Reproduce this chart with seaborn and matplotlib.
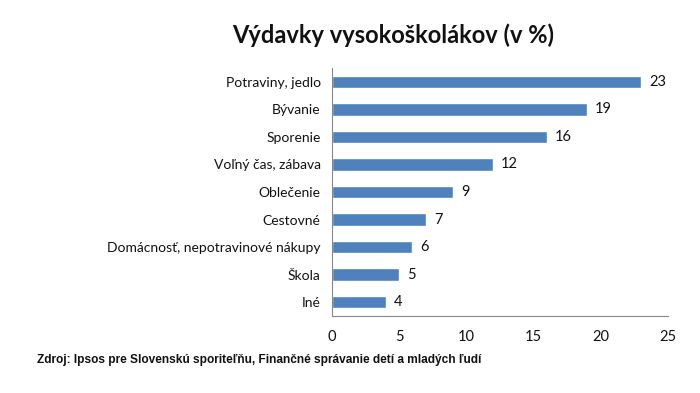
import matplotlib
matplotlib.use("Agg")
import matplotlib.pyplot as plt
import seaborn as sns
import pandas as pd
import numpy as np

categories = ["Potraviny, jedlo", "Bývanie", "Sporenie", "Voľný čas, zábava", "Oblečenie",
              "Cestovné", "Domácnosť, nepotravinové nákupy", "Škola", "Iné"]
values = [23, 19, 16, 12, 9, 7, 6, 5, 4]
x_ticks = [0, 5, 10, 15, 20, 25]

sns.set_theme(style="white")
plt.rcParams['font.family'] = ['Lato', 'DejaVu Sans']

df = pd.DataFrame({"cat": categories, "val": values})

fig = plt.figure(figsize=(7, 3.93), dpi=100)
ax = fig.add_axes([0.474, 0.196, 0.48, 0.631])
sns.barplot(data=df, x="val", y="cat", orient="h", color="#4F81BD", saturation=1,
            width=0.45, ax=ax)

ax.set_xlim(0, 25)
ax.set_ylim(len(categories) - 0.5, -0.5)
ax.set_xticks(x_ticks)
ax.set_xlabel("")
ax.set_ylabel("")
for s in ["top", "right"]:
    ax.spines[s].set_visible(False)
for s in ["left", "bottom"]:
    ax.spines[s].set_color("#888888")
    ax.spines[s].set_linewidth(0.8)
ax.tick_params(axis="y", which="major", length=0, labelsize=10, pad=8, labelcolor="#111111")
ax.set_yticks(np.arange(-0.5, len(categories), 1.0), minor=True)
ax.tick_params(axis="y", which="minor", length=4, color="#888888", width=0.8, direction="out")
ax.tick_params(axis="x", which="major", length=4, color="#888888", width=0.8, direction="out",
               labelsize=10.5, pad=6, labelcolor="#111111")

for i, v in enumerate(values):
    ax.text(v + 0.6, i, str(v), va="center", ha="left", fontsize=10.5, color="#111111")

fig.text(0.561, 0.91, "Výdavky vysokoškolákov (v %)", ha="center", va="center",
         fontsize=17, fontweight="bold", color="#111111")
fig.text(0.053, 0.084, "Zdroj: Ipsos pre Slovenskú sporiteľňu, Finančné správanie detí a mladých ľudí",
         ha="left", va="center", fontsize=8.6, fontweight="bold", family=["Liberation Sans", "DejaVu Sans"],
         color="#111111")

fig.savefig("out.png", dpi=100)
